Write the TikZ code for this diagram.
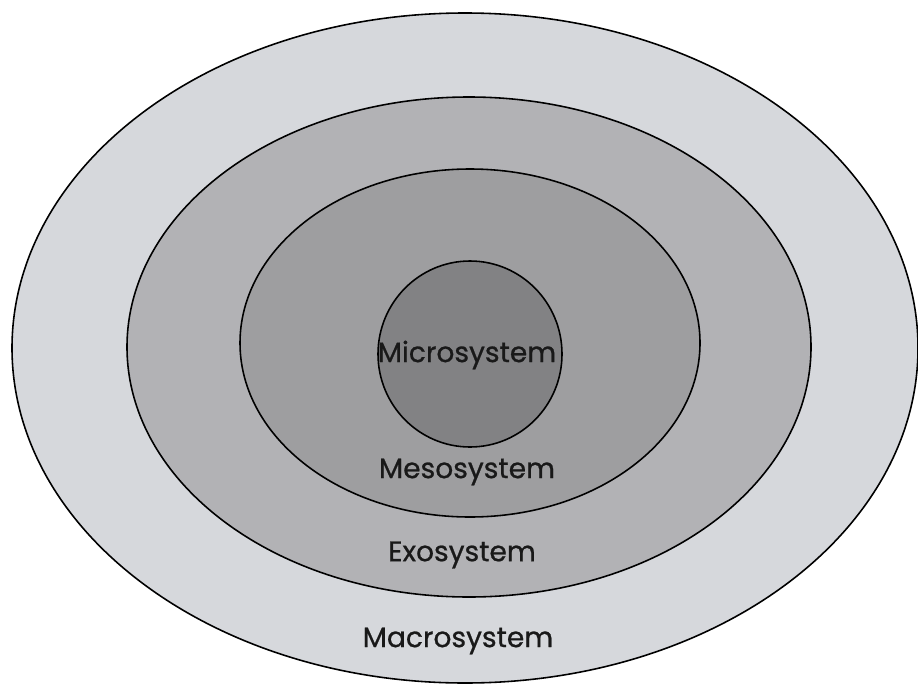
\documentclass[tikz,border=0pt]{standalone}
\usepackage{fontspec}
\setmainfont{Poppins}
\newfontfamily\ringfont[FakeBold=0.8]{Poppins}
\usepackage{tikz}
\usepackage{xcolor}
\usetikzlibrary{positioning}
\definecolor{macrogrey}{RGB}{214,216,220}
\definecolor{exogrey}{RGB}{178,178,181}
\definecolor{mesogrey}{RGB}{158,158,160}
\definecolor{microgrey}{RGB}{130,130,132}

\begin{document}
\begin{tikzpicture}[x=0.02cm,y=-0.02cm]
		\tikzstyle{ring_style} = [draw=black,line width=0.9pt]
		\tikzstyle{label_style} = [font=\ringfont\fontsize{16}{19}\selectfont,text=black!90,inner sep=0pt]
		\useasboundingbox (0,0) rectangle (918,686);
		\fill[white] (0,0) rectangle (918,686);
		\draw[ring_style,fill=macrogrey] (465,348) ellipse [x radius=453,y radius=335];
		\draw[ring_style,fill=exogrey] (469,347) ellipse [x radius=342,y radius=250];
		\draw[ring_style,fill=mesogrey] (470,343) ellipse [x radius=230,y radius=174];
		\draw[ring_style,fill=microgrey] (470,354) ellipse [x radius=92,y radius=93];
		\node[label_style] (micro) at (467,355) {Microsystem};
		\node[label_style] (meso) at (467,472) {Mesosystem};
		\node[label_style] (exo) at (462,555) {Exosystem};
		\node[label_style] (macro) at (458,641) {Macrosystem};
	    	\end{tikzpicture}
\end{document}
